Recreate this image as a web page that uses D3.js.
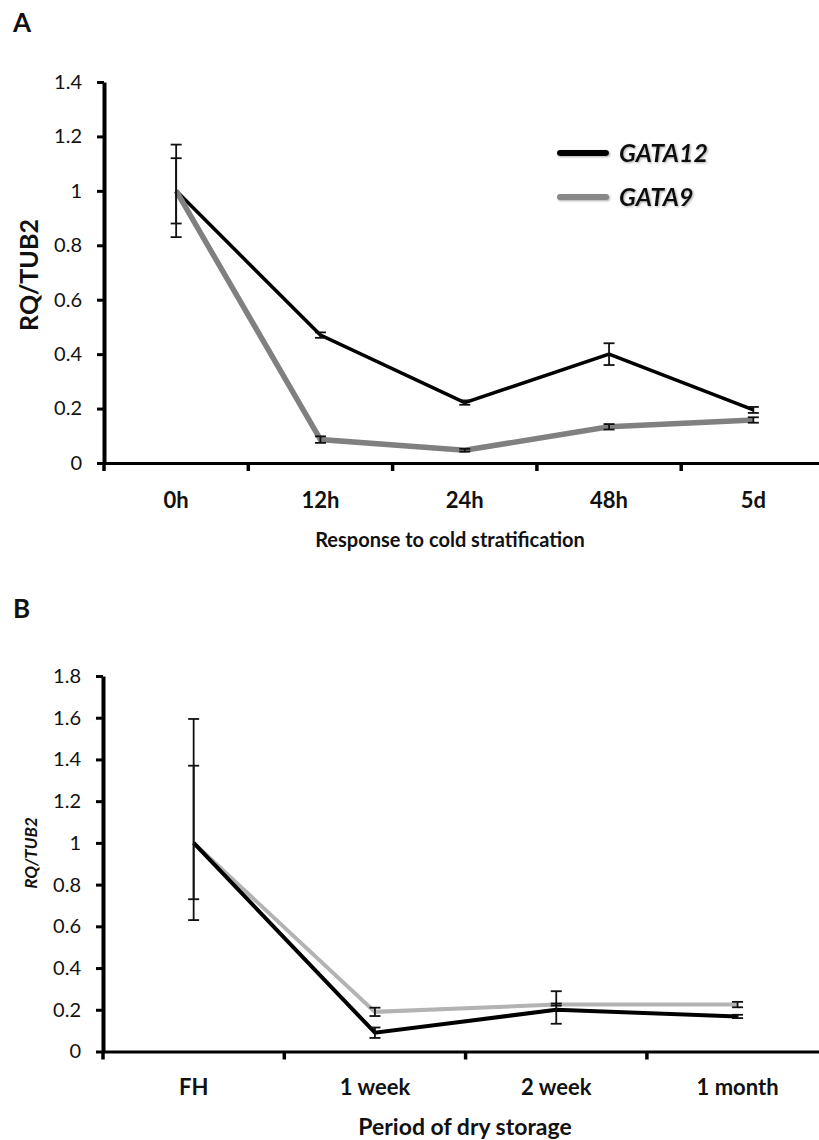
<!DOCTYPE html>
<html>
<head>
<meta charset="utf-8">
<script src="https://cdn.jsdelivr.net/npm/d3@7"></script>
<style>
  html, body { margin: 0; padding: 0; background: #fff; overflow: hidden; }
  svg text { font-family: Lato, "Open Sans", sans-serif; fill: #111; }
</style>
</head>
<body>
<div id="chart"></div>
<script>
// ---- panel A : response to cold stratification ----
const catsA = ["0h", "12h", "24h", "48h", "5d"];
const gata12A = [1.0, 0.47, 0.222, 0.40, 0.195];
const gata12AErr = [0.12, 0.01, 0.008, 0.04, 0.011];
const gata9A = [1.0, 0.086, 0.047, 0.133, 0.158];
const gata9AErr = [0.17, 0.012, 0.005, 0.01, 0.01];
const yTicksA = [0, 0.2, 0.4, 0.6, 0.8, 1, 1.2, 1.4];

// ---- panel B : period of dry storage ----
const catsB = ["FH", "1 week", "2 week", "1 month"];
const gata12B = [1.0, 0.09, 0.20, 0.168];
const gata12BUp = [0.37, 0.025, 0.089, 0.008];
const gata12BDown = [0.27, 0.025, 0.067, 0.008];
const gata9B = [1.0, 0.19, 0.225, 0.225];
const gata9BUp = [0.594, 0.02, 0.005, 0.013];
const gata9BDown = [0.37, 0.02, 0.005, 0.013];
const yTicksB = [0, 0.2, 0.4, 0.6, 0.8, 1, 1.2, 1.4, 1.6, 1.8];

const W = 819, H = 1140;
const svg = d3.select("#chart").append("svg")
  .attr("width", W).attr("height", H);

// soft shadow for the legend, like the pasted excel legend
const defs = svg.append("defs");
const soft = defs.append("filter").attr("id", "soft")
  .attr("filterUnits", "userSpaceOnUse")
  .attr("x", -200).attr("y", -100).attr("width", 600).attr("height", 200);
soft.append("feDropShadow").attr("dx", 1).attr("dy", 1)
  .attr("stdDeviation", 0.9).attr("flood-color", "#888").attr("flood-opacity", 0.7);

function panel(opt) {
  const g = svg.append("g");
  const x = d3.scaleBand().domain(opt.cats)
    .range([opt.left, opt.left + opt.step * opt.cats.length]).paddingInner(0);
  const y = d3.scaleLinear().domain([0, opt.yMax]).range([opt.bottom, opt.top]);
  const cx = c => x(c) + x.bandwidth() / 2;

  // y axis
  const ya = g.append("g").attr("transform", `translate(${opt.left},0)`)
    .call(d3.axisLeft(y).tickValues(opt.yTicks).tickSize(7).tickSizeOuter(0)
      .tickPadding(15).tickFormat(d3.format("~g")));
  ya.select(".domain").attr("stroke", "#000").attr("stroke-width", 4);
  ya.selectAll(".tick line").attr("stroke", "#000").attr("stroke-width", 3);
  ya.selectAll(".tick text").style("font-size", "20px").attr("fill", "#111");

  // x axis : labels under category centres, ticks between categories
  const xa = g.append("g").attr("transform", `translate(0,${opt.bottom})`)
    .call(d3.axisBottom(x).tickSize(0).tickSizeOuter(0).tickPadding(opt.labelPad));
  xa.select(".domain").attr("stroke", "#000").attr("stroke-width", 3);
  xa.selectAll(".tick text").style("font-size", opt.tickFont + "px")
    .style("font-weight", "bold").attr("fill", "#111");
  g.append("g").selectAll("line")
    .data(opt.cats)
    .join("line")
    .attr("x1", d => x(d)).attr("x2", d => x(d))
    .attr("y1", opt.bottom).attr("y2", opt.bottom + 8)
    .attr("stroke", "#000").attr("stroke-width", 3.5);

  // series lines
  const line = d3.line().x((d, i) => cx(opt.cats[i])).y(d => y(d));
  opt.series.forEach(s => {
    g.append("path").datum(s.values)
      .attr("d", line).attr("fill", "none")
      .attr("stroke", s.color).attr("stroke-width", s.width)
      .attr("stroke-linejoin", "miter");
  });

  // error bars
  opt.series.forEach(s => {
    const eb = g.append("g").selectAll("g")
      .data(s.values.map((v, i) => ({c: opt.cats[i], v, up: s.up[i], down: s.down[i]})))
      .join("g");
    eb.append("line")
      .attr("x1", d => cx(d.c)).attr("x2", d => cx(d.c))
      .attr("y1", d => y(d.v + d.up)).attr("y2", d => y(d.v - d.down))
      .attr("stroke", "#111").attr("stroke-width", 1.8);
    [d => d.v + d.up, d => d.v - d.down].forEach(f => {
      eb.append("line")
        .attr("x1", d => cx(d.c) - 5.5).attr("x2", d => cx(d.c) + 5.5)
        .attr("y1", d => y(f(d))).attr("y2", d => y(f(d)))
        .attr("stroke", "#111").attr("stroke-width", 1.8);
    });
  });

  // titles
  g.append("text").attr("x", opt.xTitleX).attr("y", opt.xTitleY)
    .attr("text-anchor", "middle").style("font-weight", "bold")
    .style("font-size", opt.xTitleFont + "px").text(opt.xTitle);
  g.append("text")
    .attr("transform", `translate(${opt.yTitleX},${opt.yTitleY}) rotate(-90)`)
    .attr("text-anchor", "middle").style("font-weight", "bold")
    .style("font-style", opt.yTitleItalic ? "italic" : "normal")
    .style("font-size", opt.yTitleFont + "px").text("RQ/TUB2");
  g.append("text").attr("x", 13).attr("y", opt.letterY)
    .style("font-weight", "bold").style("font-size", "26px").text(opt.letter);
  return g;
}

const gA = panel({
  cats: catsA, left: 104, step: 144.3, top: 82, bottom: 463, yMax: 1.4, yTicks: yTicksA,
  labelPad: 29, tickFont: 22,
  series: [
    {values: gata12A, up: gata12AErr, down: gata12AErr, color: "#000", width: 3.5},
    {values: gata9A, up: gata9AErr, down: gata9AErr, color: "#808080", width: 5.5}
  ],
  xTitle: "Response to cold stratification", xTitleX: 450, xTitleY: 547, xTitleFont: 20,
  yTitleX: 38, yTitleY: 275, yTitleFont: 25, yTitleItalic: false,
  letter: "A", letterY: 32
});

// legend of panel A
const legend = [
  {name: "GATA12", color: "#000"},
  {name: "GATA9", color: "#888"}
];
const lg = gA.append("g").selectAll("g").data(legend).join("g")
  .attr("transform", (d, i) => `translate(560,${153 + i * 44})`)
  .attr("filter", "url(#soft)");
lg.append("line").attr("x1", 0).attr("x2", 46)
  .attr("stroke", d => d.color).attr("stroke-width", 6).attr("stroke-linecap", "round");
lg.append("text").attr("x", 59).attr("dy", "0.36em")
  .style("font-weight", "bold").style("font-style", "italic").style("font-size", "25px")
  .text(d => d.name);

panel({
  cats: catsB, left: 103, step: 181.3, top: 676, bottom: 1051.5, yMax: 1.8, yTicks: yTicksB,
  labelPad: 28, tickFont: 22,
  series: [
    {values: gata9B, up: gata9BUp, down: gata9BDown, color: "#b3b3b3", width: 4},
    {values: gata12B, up: gata12BUp, down: gata12BDown, color: "#000", width: 4}
  ],
  xTitle: "Period of dry storage", xTitleX: 465, xTitleY: 1135, xTitleFont: 23,
  yTitleX: 37, yTitleY: 853, yTitleFont: 17, yTitleItalic: true,
  letter: "B", letterY: 618
});
</script>
</body>
</html>
